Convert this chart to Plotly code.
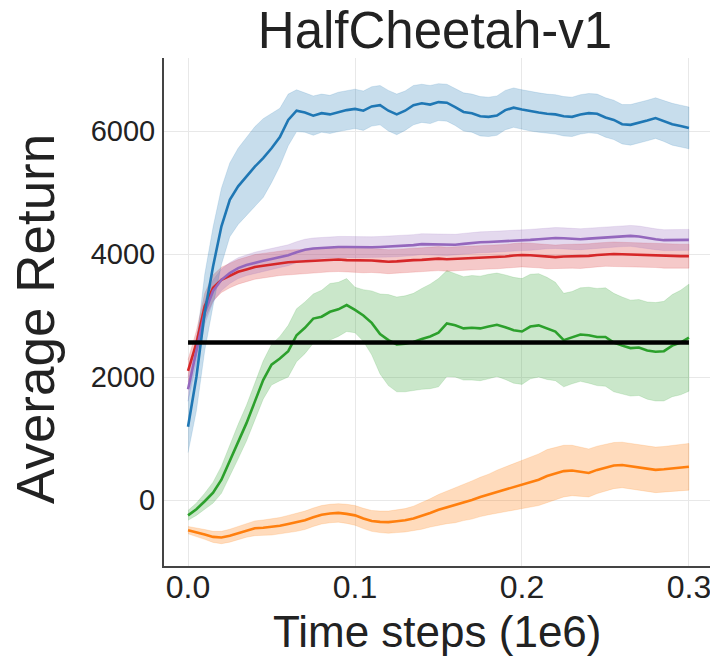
import plotly.graph_objects as go

# ---------------- data ----------------
timesteps = [0.000, 0.005, 0.010, 0.015, 0.020, 0.025, 0.030, 0.035, 0.040, 0.045,
             0.050, 0.055, 0.060, 0.065, 0.070, 0.075, 0.080, 0.085, 0.090, 0.095,
             0.100, 0.105, 0.110, 0.115, 0.120, 0.125, 0.130, 0.135, 0.140, 0.145,
             0.150, 0.155, 0.160, 0.165, 0.170, 0.175, 0.180, 0.185, 0.190, 0.195,
             0.200, 0.205, 0.210, 0.215, 0.220, 0.225, 0.230, 0.235, 0.240, 0.245,
             0.250, 0.255, 0.260, 0.265, 0.270, 0.275, 0.280, 0.285, 0.290, 0.295,
             0.300]

blue_mean = [1190, 2000, 3050, 3800, 4450, 4880, 5100, 5260, 5420, 5560,
             5720, 5900, 6180, 6330, 6300, 6250, 6290, 6270, 6310, 6340,
             6360, 6330, 6400, 6420, 6330, 6270, 6330, 6420, 6450, 6430,
             6470, 6460, 6390, 6310, 6290, 6240, 6230, 6250, 6340, 6380,
             6350, 6320, 6300, 6280, 6270, 6240, 6230, 6270, 6290, 6280,
             6220, 6180, 6110, 6100, 6130, 6170, 6210, 6160, 6110, 6080,
             6050]
blue_std = [420, 550, 620, 640, 620, 600, 620, 640, 650, 640,
            560, 470, 420, 340, 320, 320, 310, 310, 320, 320,
            320, 320, 320, 320, 330, 330, 320, 320, 310, 310,
            300, 300, 300, 310, 310, 320, 320, 320, 320, 320,
            320, 320, 320, 320, 320, 320, 320, 320, 320, 320,
            320, 320, 320, 330, 330, 330, 330, 330, 340, 340,
            340]

orange_mean = [-490, -520, -560, -600, -610, -580, -540, -490, -460, -450,
               -440, -420, -390, -365, -330, -280, -240, -220, -210, -225,
               -250, -300, -340, -355, -360, -345, -330, -300, -260, -210,
               -160, -120, -90, -40, 0, 50, 90, 140, 180, 210,
               250, 290, 330, 390, 430, 470, 480, 460, 440, 490,
               530, 560, 570, 550, 530, 510, 490, 500, 510, 530,
               540]
orange_std = [60, 70, 80, 90, 100, 105, 110, 115, 120, 125,
              130, 135, 140, 145, 150, 150, 150, 150, 150, 155,
              160, 165, 170, 175, 180, 185, 190, 200, 215, 230,
              250, 265, 280, 295, 310, 320, 330, 345, 360, 375,
              390, 405, 420, 430, 430, 420, 410, 400, 390, 385,
              380, 375, 370, 370, 370, 370, 370, 370, 375, 380,
              380]

green_mean = [-250, -150, -20, 120, 330, 640, 950, 1250, 1600, 1950,
              2200, 2300, 2420, 2680, 2800, 2950, 2980, 3060, 3100, 3170,
              3090, 3000, 2880, 2700, 2600, 2530, 2540, 2570, 2620, 2660,
              2720, 2870, 2840, 2790, 2800, 2790, 2820, 2850, 2810, 2760,
              2740, 2820, 2840, 2790, 2740, 2600, 2640, 2690, 2680, 2650,
              2650, 2560, 2510, 2470, 2480, 2430, 2410, 2420, 2510, 2560,
              2640]
green_std = [80, 100, 130, 170, 220, 260, 280, 290, 300, 310,
             330, 360, 420, 430, 420, 400, 430, 460, 440, 430,
             370, 420, 520, 650, 740, 770, 780, 790, 820, 850,
             880, 860, 840, 840, 850, 850, 850, 840, 850, 860,
             860, 850, 840, 830, 800, 760, 750, 760, 780, 790,
             800, 800, 790, 780, 780, 790, 800, 810, 830, 850,
             870]

red_mean = [2100, 2550, 3150, 3450, 3580, 3650, 3710, 3750, 3790, 3810,
            3830, 3850, 3865, 3875, 3880, 3890, 3895, 3905, 3910, 3900,
            3900, 3890, 3895, 3885, 3875, 3880, 3895, 3900, 3905, 3915,
            3925, 3915, 3920, 3935, 3940, 3945, 3950, 3955, 3960, 3975,
            3985, 3980, 3970, 3955, 3950, 3960, 3965, 3960, 3970, 3985,
            3995, 4000, 3995, 3990, 3985, 3980, 3975, 3965, 3960, 3965,
            3965]
red_std = [180, 200, 210, 210, 205, 200, 200, 200, 200, 200,
           200, 200, 200, 195, 195, 195, 195, 195, 195, 195,
           195, 195, 195, 195, 195, 195, 195, 195, 195, 195,
           195, 195, 195, 195, 195, 195, 195, 195, 195, 195,
           195, 195, 195, 195, 195, 195, 195, 195, 195, 195,
           195, 195, 195, 195, 195, 195, 195, 195, 195, 195,
           195]

purple_mean = [1800, 2450, 3050, 3400, 3580, 3690, 3770, 3820, 3860, 3890,
               3920, 3950, 3980, 4030, 4070, 4090, 4100, 4105, 4115, 4115,
               4110, 4115, 4110, 4115, 4120, 4125, 4130, 4145, 4160, 4155,
               4150, 4145, 4150, 4165, 4180, 4190, 4195, 4200, 4210, 4215,
               4225, 4230, 4240, 4255, 4260, 4255, 4245, 4240, 4250, 4260,
               4270, 4280, 4290, 4295, 4285, 4260, 4240, 4225, 4225, 4230,
               4230]
purple_std = [200, 200, 190, 180, 175, 170, 170, 170, 170, 170,
              170, 170, 170, 170, 170, 170, 170, 170, 170, 170,
              170, 170, 170, 170, 170, 170, 170, 170, 170, 170,
              170, 170, 170, 170, 170, 170, 170, 170, 170, 170,
              170, 170, 170, 170, 170, 170, 170, 170, 170, 170,
              170, 170, 170, 170, 170, 170, 170, 170, 170, 170,
              170]

baseline_x = [0.0, 0.3]
baseline_y = [2560, 2560]

x_ticks = [0.0, 0.1, 0.2, 0.3]
x_tick_labels = ["0.0", "0.1", "0.2", "0.3"]
y_ticks = [0, 2000, 4000, 6000]
y_tick_labels = ["0", "2000", "4000", "6000"]

series = [
    ("orange", orange_mean, orange_std, "#ff7f0e", "rgba(255,127,14,0.28)"),
    ("green", green_mean, green_std, "#2ca02c", "rgba(44,160,44,0.25)"),
    ("red", red_mean, red_std, "#d62728", "rgba(214,39,40,0.25)"),
    ("purple", purple_mean, purple_std, "#9467bd", "rgba(148,103,189,0.25)"),
    ("blue", blue_mean, blue_std, "#1f77b4", "rgba(31,119,180,0.25)"),
]

fig = go.Figure()
for name, mean, std, color, fill in series:
    upper = [m + s for m, s in zip(mean, std)]
    lower = [m - s for m, s in zip(mean, std)]
    fig.add_trace(go.Scatter(
        x=timesteps + timesteps[::-1], y=upper + lower[::-1],
        fill="toself", fillcolor=fill, line=dict(width=0.6, color=fill),
        mode="lines", hoverinfo="skip", showlegend=False))
for name, mean, std, color, fill in series:
    fig.add_trace(go.Scatter(
        x=timesteps, y=mean, mode="lines", name=name,
        line=dict(color=color, width=2.6), showlegend=False))

fig.add_trace(go.Scatter(x=baseline_x, y=baseline_y, mode="lines",
                         line=dict(color="black", width=4.5), showlegend=False))

FONT = "Liberation Sans, Arial, Helvetica, sans-serif"
OFF = 8  # page body margin of the html page
W, H = 718 - OFF, 659 - OFF
L, R, T, B = 164 - OFF, 2, 58 - OFF, 93
PW, PH = W - L - R, H - T - B
PLOT_BOTTOM = H - B  # in figure coords


def px_x(page_x):
    return (page_x - OFF - L) / PW


def px_y(page_y):
    return (PLOT_BOTTOM - (page_y - OFF)) / PH


fig.update_layout(
    width=W, height=H,
    margin=dict(l=L, r=R, t=T, b=B, autoexpand=False),
    paper_bgcolor="white", plot_bgcolor="white",
    font=dict(family=FONT, color="#222222"),
    title=dict(text="HalfCheetah-v1", x=px_x(435), xref="paper", xanchor="center",
               y=1 - (30.5 - OFF) / H, yref="container", yanchor="middle",
               font=dict(size=51, family=FONT, color="#222222")),
    xaxis=dict(range=[-0.0144, 0.3162], tickvals=x_ticks, ticktext=x_tick_labels,
               automargin=False,
               showgrid=True, gridcolor="#e8e8e8", gridwidth=1,
               showline=True, linecolor="#444444", linewidth=2,
               zeroline=False, ticks="", ticklabelstandoff=-8,
               tickfont=dict(size=32, family=FONT, color="#222222")),
    yaxis=dict(range=[-1073, 7187], tickvals=y_ticks, ticktext=y_tick_labels,
               automargin=False,
               showgrid=True, gridcolor="#e8e8e8", gridwidth=1,
               showline=True, linecolor="#444444", linewidth=2,
               zeroline=False, ticks="", ticklabelstandoff=1,
               tickfont=dict(size=29, family=FONT, color="#222222")),
    annotations=[
        dict(text="Time steps (1e6)", xref="paper", yref="paper",
             x=px_x(437), y=px_y(631), xanchor="center", yanchor="middle",
             showarrow=False, font=dict(size=44, family=FONT, color="#222222")),
        dict(text="Average Return", xref="paper", yref="paper",
             x=px_x(35), y=px_y(319), xanchor="center", yanchor="middle",
             textangle=-90, showarrow=False,
             font=dict(size=53, family=FONT, color="#222222")),
    ],
)

fig.write_html("out.html")
